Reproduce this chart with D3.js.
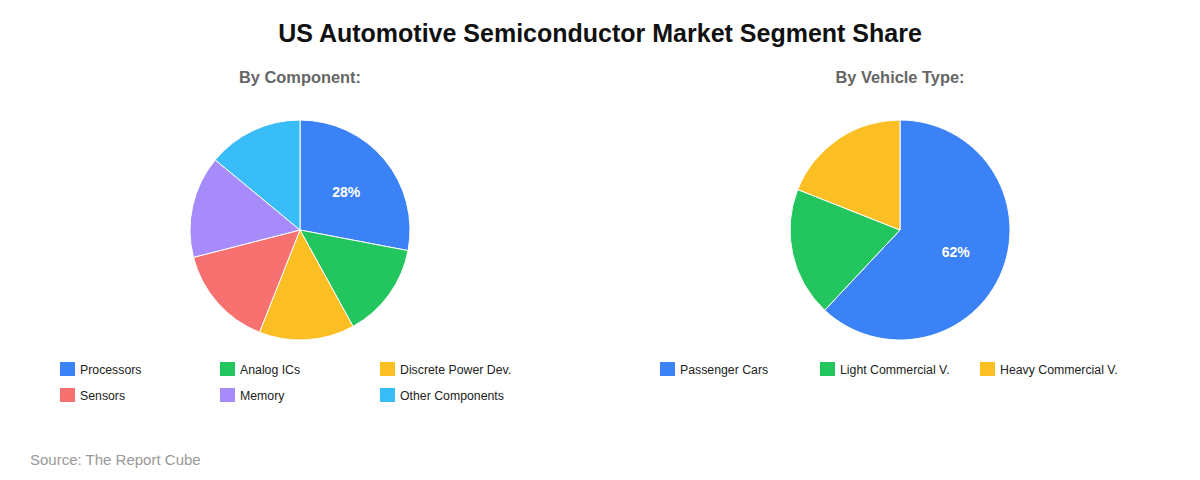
<!DOCTYPE html>
<html>
<head>
<meta charset="utf-8">
<script src="https://cdn.jsdelivr.net/npm/d3@7"></script>
<style>
  body { margin: 0; background: #fff; font-family: "Liberation Sans", Arial, sans-serif; }
</style>
</head>
<body>
<div id="chart"></div>
<script>
// values (percent share)
var componentLabels = ["Processors", "Analog ICs", "Discrete Power Dev.", "Sensors", "Memory", "Other Components"];
var componentValues = [28, 14, 14, 15, 15, 14];
var vehicleLabels = ["Passenger Cars", "Light Commercial V.", "Heavy Commercial V."];
var vehicleValues = [62, 19, 19];
var palette = ["#3B82F6", "#22C55E", "#FBBF24", "#F87171", "#A78BFA", "#38BDF8"];

var width = 1200, height = 480;

var svg = d3.select("#chart").append("svg")
    .attr("width", width)
    .attr("height", height);

svg.append("text")
    .attr("x", width / 2)
    .attr("y", 42)
    .attr("text-anchor", "middle")
    .style("font-size", "25px")
    .style("font-weight", "bold")
    .style("fill", "#111")
    .text("US Automotive Semiconductor Market Segment Share");

svg.append("text")
    .attr("x", 30)
    .attr("y", 465)
    .style("font-size", "15px")
    .style("fill", "#999")
    .text("Source: The Report Cube");

function drawPie(cx, title, labels, values, legendX) {
    var radius = 110;
    var color = d3.scaleOrdinal().domain(labels).range(palette);
    var data = labels.map(function(l, i) { return {label: l, value: values[i]}; });

    svg.append("text")
        .attr("x", cx)
        .attr("y", 83)
        .attr("text-anchor", "middle")
        .style("font-size", "16.4px")
        .style("font-weight", "bold")
        .style("fill", "#666")
        .text(title);

    var pie = d3.pie().sort(null).value(function(d) { return d.value; });
    var arc = d3.arc().innerRadius(0).outerRadius(radius);
    var labelArc = d3.arc().innerRadius(60).outerRadius(60);

    var g = svg.append("g").attr("transform", "translate(" + cx + ",230)");

    var slices = g.selectAll(".arc")
        .data(pie(data))
        .enter().append("g")
        .attr("class", "arc");

    slices.append("path")
        .attr("d", arc)
        .attr("fill", function(d) { return color(d.data.label); })
        .attr("stroke", "#fff")
        .attr("stroke-width", 1);

    // only the big slices get a label
    slices.filter(function(d) { return d.data.value >= 20; })
        .append("text")
        .attr("transform", function(d) { return "translate(" + labelArc.centroid(d) + ")"; })
        .attr("dy", "0.35em")
        .attr("text-anchor", "middle")
        .style("font-size", "14px")
        .style("font-weight", "bold")
        .style("fill", "#fff")
        .text(function(d) { return d.data.value + "%"; });

    var legend = svg.append("g").attr("transform", "translate(" + legendX + ",362)");
    var item = legend.selectAll(".item")
        .data(data)
        .enter().append("g")
        .attr("class", "item")
        .attr("transform", function(d, i) { return "translate(" + (i % 3) * 160 + "," + Math.floor(i / 3) * 26 + ")"; });

    item.append("rect")
        .attr("width", 15)
        .attr("height", 14)
        .attr("fill", function(d) { return color(d.label); });

    item.append("text")
        .attr("x", 20)
        .attr("y", 12)
        .style("font-size", "12.3px")
        .style("fill", "#222")
        .text(function(d) { return d.label; });
}

drawPie(300, "By Component:", componentLabels, componentValues, 60);
drawPie(900, "By Vehicle Type:", vehicleLabels, vehicleValues, 660);
</script>
</body>
</html>
